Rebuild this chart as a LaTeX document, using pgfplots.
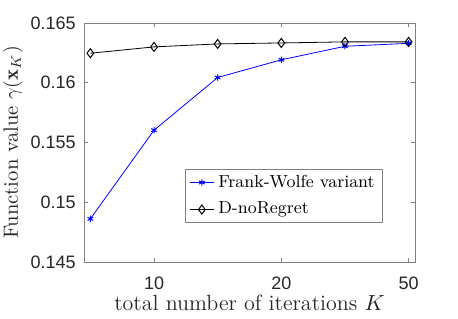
\documentclass[border=0pt]{standalone}
\usepackage{fontspec}
\newfontfamily\ticksf{Liberation Sans}
\usepackage{pgfplots}
\pgfplotsset{compat=1.18}
\begin{document}
\begin{tikzpicture}
\useasboundingbox (-42pt,-28.5pt) rectangle (187pt,131pt);
\begin{axis}[
 at={(0,0)}, anchor=south west,
 scale only axis, width=165.5pt, height=119.5pt,
 xmin=-0.1, xmax=5.1, ymin=0.145, ymax=0.165,
 xtick={1,3,5}, xticklabels={10,20,50},
 ytick={0.145,0.15,0.155,0.16,0.165}, yticklabels={0.145,0.15,0.155,0.16,0.165},
 axis line style={black!50, line width=0.4pt},
 every tick/.style={black!50, line width=0.4pt},
 major tick length=2pt,
 tick align=inside,
 xticklabel style={font=\ticksf\fontsize{9}{9}\selectfont, text=black!85, inner sep=0pt, anchor=north, yshift=-7.5pt},
 yticklabel style={font=\ticksf\fontsize{9}{9}\selectfont, text=black!85, inner sep=0pt, anchor=east, xshift=-4pt},
 xlabel={total number of iterations $K$},
 xlabel style={at={(axis description cs:0.5,-0.205)}, anchor=base, font=\fontsize{11}{13}\selectfont, inner sep=0pt, text=black!85},
 ylabel={Function value $\gamma(\mathbf{x}_K)$},
 ylabel style={at={(axis description cs:-0.215,0.5)}, anchor=center, font=\fontsize{10.3}{12}\selectfont, inner sep=0pt, text=black!85},
 legend style={at={(rel axis cs:0.9033,0.1632)}, anchor=south east, draw=black!50, line width=0.4pt, font=\fontsize{8.7}{10}\selectfont, inner xsep=2pt, inner ysep=0.8pt, row sep=2pt},
 legend cell align=left,
 legend image code/.code={\draw[mark repeat=2,mark phase=2,#1] plot coordinates {(0pt,0pt) (6pt,0pt) (12pt,0pt)};},
]
\addplot[blue, line width=0.4pt, mark=asterisk, mark size=1.6pt, mark options={solid, line width=0.5pt}] coordinates {
(0,0.14861) (1,0.15603) (2,0.16044) (3,0.16192) (4,0.16305) (5,0.16330)};
\addlegendentry{Frank-Wolfe variant}
\addplot[black, line width=0.4pt, mark=diamond, mark size=2.25pt, mark options={solid, line width=0.5pt}] coordinates {
(0,0.16247) (1,0.16300) (2,0.16325) (3,0.16333) (4,0.16342) (5,0.16342)};
\addlegendentry{D-noRegret}
\end{axis}
\end{tikzpicture}
\end{document}
